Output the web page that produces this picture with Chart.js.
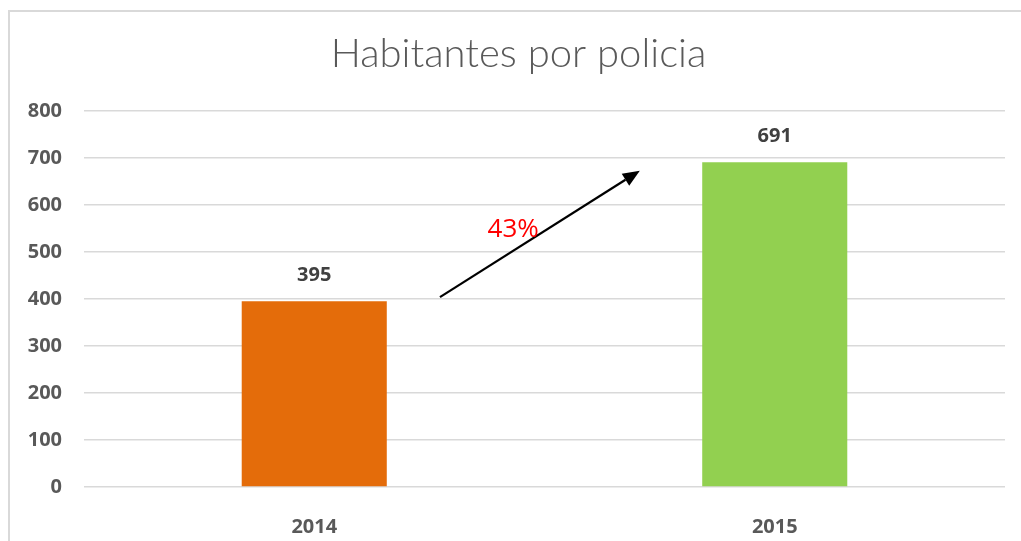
<!DOCTYPE html>
<html>
<head>
<meta charset="utf-8">
<script src="https://cdn.jsdelivr.net/npm/chart.js@4/dist/chart.umd.min.js"></script>
<style>
  html, body { margin: 0; padding: 0; background: #fff; }
  #wrap { position: relative; width: 1021px; height: 541px; overflow: hidden; }
  #frame { position: absolute; left: 8px; top: 10px; width: 1100px; height: 600px;
           border-left: 2px solid #d9d9d9; border-top: 2px solid #d9d9d9; }
  canvas { position: absolute; left: 0; top: 0; }
</style>
</head>
<body>
<div id="wrap">
  <div id="frame"></div>
  <canvas id="chartPolicia" width="1021" height="541"></canvas>
</div>
<script>
'use strict';

const years = ['2014', '2015'];
const habitantes = [395, 691];
const barColors = ['#E46C0A', '#92D050'];
const yTicks = [0, 100, 200, 300, 400, 500, 600, 700, 800];

// growth arrow, in (category index, value) units
const arrowFrom = [0.273, 404];
const arrowTo = [0.707, 673];
const arrowText = '43%';
const arrowTextAt = [0.432, 547];

// centre the title over the framed area rather than the whole canvas
const titleShift = {
  id: 'titleShift',
  afterLayout(chart) {
    if (chart.titleBlock) {
      chart.titleBlock.left += 16;
      chart.titleBlock.right += 16;
    }
  }
};

const valueLabels = {
  id: 'valueLabels',
  afterDatasetsDraw(chart) {
    const ctx = chart.ctx;
    const meta = chart.getDatasetMeta(0);
    ctx.save();
    ctx.font = 'bold 20px "Open Sans"';
    ctx.fillStyle = '#404040';
    ctx.textAlign = 'center';
    ctx.textBaseline = 'middle';
    meta.data.forEach(function(bar, i) {
      ctx.fillText(String(habitantes[i]), bar.x, bar.y - 26);
    });
    ctx.restore();
  }
};

const growthArrow = {
  id: 'growthArrow',
  afterDatasetsDraw(chart) {
    const ctx = chart.ctx;
    const x = chart.scales.x, y = chart.scales.y;
    const x0 = x.getPixelForValue(arrowFrom[0]), y0 = y.getPixelForValue(arrowFrom[1]);
    const x1 = x.getPixelForValue(arrowTo[0]), y1 = y.getPixelForValue(arrowTo[1]);
    const ang = Math.atan2(y1 - y0, x1 - x0);
    const head = 17, half = 7;
    const bx = x1 - head * Math.cos(ang), by = y1 - head * Math.sin(ang);
    ctx.save();
    ctx.strokeStyle = '#000';
    ctx.fillStyle = '#000';
    ctx.lineWidth = 2.2;
    ctx.beginPath();
    ctx.moveTo(x0, y0);
    ctx.lineTo(bx, by);
    ctx.stroke();
    ctx.beginPath();
    ctx.moveTo(x1, y1);
    ctx.lineTo(bx + half * Math.sin(ang), by - half * Math.cos(ang));
    ctx.lineTo(bx - half * Math.sin(ang), by + half * Math.cos(ang));
    ctx.closePath();
    ctx.fill();

    ctx.font = '26px "Open Sans"';
    ctx.fillStyle = '#FF0000';
    ctx.textAlign = 'center';
    ctx.textBaseline = 'middle';
    ctx.fillText(arrowText, x.getPixelForValue(arrowTextAt[0]), y.getPixelForValue(arrowTextAt[1]));
    ctx.restore();
  }
};

const config = {
  type: 'bar',
  data: {
    labels: years,
    datasets: [{
      label: 'Habitantes por policia',
      data: habitantes,
      backgroundColor: barColors,
      borderWidth: 0,
      categoryPercentage: 1,
      barPercentage: 0.315
    }]
  },
  options: {
    responsive: false,
    animation: false,
    layout: { padding: { left: 0, right: 16, top: 0, bottom: 0 } },
    plugins: {
      legend: { display: false },
      tooltip: { enabled: false },
      title: {
        display: true,
        text: 'Habitantes por policia',
        color: '#595959',
        font: { family: 'Lato', size: 40, weight: '300', lineHeight: 1.2 },
        padding: { top: 30, bottom: 33 }
      }
    },
    scales: {
      x: {
        grid: { display: false },
        border: { display: false },
        ticks: {
          color: '#595959',
          font: { family: 'Open Sans', size: 20, weight: 'bold' },
          padding: 20
        },
        afterFit(scale) { scale.height = 54; }
      },
      y: {
        min: 0,
        max: 800,
        afterBuildTicks(scale) { scale.ticks = yTicks.map(v => ({ value: v })); },
        grid: { color: '#d9d9d9', lineWidth: 1.5, drawTicks: false },
        border: { display: false },
        ticks: {
          color: '#595959',
          font: { family: 'Open Sans', size: 20, weight: 'bold' },
          padding: 22
        },
        afterFit(scale) { scale.width = 84; }
      }
    }
  },
  plugins: [titleShift, valueLabels, growthArrow]
};

const chartPolicia = new Chart(document.getElementById('chartPolicia'), config);
</script>
</body>
</html>
